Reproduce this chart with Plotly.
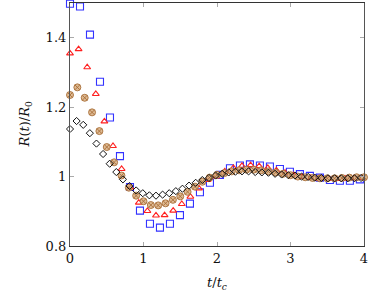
import numpy as np
import plotly.graph_objects as go

# Blue squares (dt ~0.136)
blue_t = [round(0.136 * k, 3) for k in range(30)]
blue_v = [1.498, 1.49, 1.409, 1.273, 1.17, 1.059, 0.97, 0.902, 0.864, 0.853,
          0.864, 0.889, 0.922, 0.955, 0.982, 1.005, 1.024, 1.032, 1.035, 1.032,
          1.029, 1.022, 1.014, 1.007, 1.002, 0.997, 0.99, 0.988, 0.988, 0.992]

# Red triangles (dt ~0.117)
red_t = [round(0.117 * k, 3) for k in range(35)]
red_v = [1.355, 1.367, 1.315, 1.238, 1.159, 1.088, 1.022, 0.969, 0.925, 0.901,
         0.888, 0.889, 0.902, 0.921, 0.942, 0.966, 0.99, 1.0, 1.015, 1.025,
         1.031, 1.033, 1.03, 1.025, 1.018, 1.011, 1.004, 0.999, 0.996, 0.994,
         0.993, 0.993, 0.994, 0.995, 0.996]

# Tan circles (dt 0.1)
tan_t = [round(0.1 * k, 2) for k in range(41)]
tan_v = [1.235, 1.257, 1.227, 1.185, 1.131, 1.085, 1.041, 1.003, 0.968, 0.945,
         0.929, 0.918, 0.917, 0.923, 0.933, 0.943, 0.956, 0.971, 0.985, 0.997,
         1.005, 1.01, 1.015, 1.018, 1.02, 1.02, 1.018, 1.015, 1.012, 1.008,
         1.004, 1.0, 0.998, 0.996, 0.995, 0.995, 0.995, 0.996, 0.997, 0.998, 0.998]

# Black diamonds (dt 0.09)
blk_t = [round(0.09 * k, 2) for k in range(45)]
blk_v = [1.137, 1.16, 1.149, 1.125, 1.095, 1.065, 1.037, 1.013, 0.992, 0.973,
         0.96, 0.952, 0.946, 0.945, 0.948, 0.952, 0.958, 0.965, 0.974, 0.982,
         0.99, 0.996, 1.003, 1.008, 1.012, 1.014, 1.015, 1.015, 1.013, 1.012,
         1.011, 1.008, 1.006, 1.004, 1.003, 1.0, 0.999, 0.997, 0.996, 0.995,
         0.995, 0.995, 0.995, 0.995, 0.996]

x_ticks = [0, 1, 2, 3, 4]
x_tick_text = ["0", "1", "2", "3", "4"]
y_ticks = [0.8, 1.0, 1.2, 1.4]
y_tick_text = ["0.8", "1", "1.2", "1.4"]

fig = go.Figure()
fig.add_trace(go.Scatter(x=blue_t, y=blue_v, mode="markers", cliponaxis=False,
                         marker=dict(symbol="square-open", size=7, color="#3333ff",
                                     line=dict(width=1.1))))
fig.add_trace(go.Scatter(x=red_t, y=red_v, mode="markers", cliponaxis=False,
                         marker=dict(symbol="triangle-up-open", size=6, color="#ff2020",
                                     line=dict(width=1.1))))
fig.add_trace(go.Scatter(x=tan_t, y=tan_v, mode="markers", cliponaxis=False,
                         marker=dict(symbol="circle-x", size=7, color="rgba(218,178,135,0.9)",
                                     line=dict(width=0.9, color="#a86e38"))))
fig.add_trace(go.Scatter(x=blk_t, y=blk_v, mode="markers", cliponaxis=False,
                         marker=dict(symbol="diamond-open", size=5.5, color="#111111",
                                     line=dict(width=1))))

font = dict(family="DejaVu Serif", size=13, color="#111")
fig.update_layout(
    width=374, height=298,
    margin=dict(l=70, r=10, t=3, b=52),
    paper_bgcolor="white", plot_bgcolor="white",
    showlegend=False,
    font=font,
    xaxis=dict(range=[0, 4], tickvals=x_ticks, ticktext=x_tick_text,
               ticks="inside", ticklen=4,
               tickcolor="#aaa", showline=True, linecolor="#333", linewidth=1,
               mirror="ticks", showgrid=False, zeroline=False, automargin=False,
               tickfont=font),
    yaxis=dict(range=[0.8, 1.5], tickvals=y_ticks, ticktext=y_tick_text,
               ticks="inside", ticklen=4, tickcolor="#aaa", showline=True,
               linecolor="#555", linewidth=1.2, mirror="ticks", showgrid=False,
               zeroline=False, automargin=False, tickfont=font),
    annotations=[
        dict(text="<i>t</i>/<i>t<sub>c</sub></i>", xref="paper", yref="paper",
             x=0.5, y=-0.11, xanchor="center", yanchor="top", showarrow=False,
             font=font),
        dict(text="<i>R</i>(<i>t</i>)/<i>R</i><sub>0</sub>", xref="paper", yref="paper",
             x=-0.15, y=0.5, xanchor="center", yanchor="middle", showarrow=False,
             textangle=-90, font=font),
    ],
)
fig.write_html("out.html", config={"displayModeBar": False},
               post_script="document.body.style.margin='0';document.body.style.padding='0';")
